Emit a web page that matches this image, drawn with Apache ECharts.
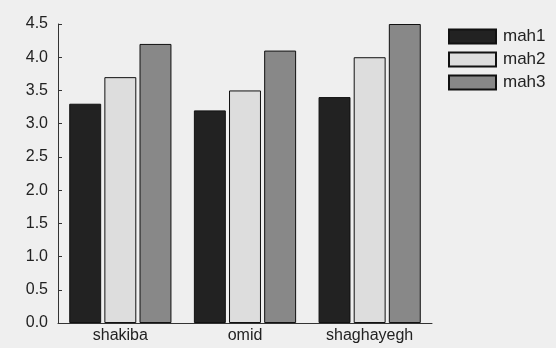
<!DOCTYPE html>
<html>
<head>
<meta charset="utf-8">
<script src="https://cdn.jsdelivr.net/npm/echarts@6/dist/echarts.min.js"></script>
<style>
  html, body { margin: 0; padding: 0; background: #efefef; }
  #chart { width: 556px; height: 348px; }
</style>
</head>
<body>
<div id="chart"></div>
<script>
// data
var categories = ["shakiba", "omid", "shaghayegh"];
var mah1 = [3.3, 3.2, 3.4];
var mah2 = [3.7, 3.5, 4.0];
var mah3 = [4.2, 4.1, 4.5];
var seriesNames = ["mah1", "mah2", "mah3"];
var seriesColors = ["#222222", "#dddddd", "#888888"];

var chart = echarts.init(document.getElementById("chart"));

var font = "Liberation Sans, Arial, sans-serif";

function makeSeries(name, data, color) {
  return {
    name: name,
    type: "bar",
    data: data,
    barGap: "10%",
    barCategoryGap: "18%",
    itemStyle: { color: color, borderColor: "#111", borderWidth: 1 },
    emphasis: { disabled: true }
  };
}

var option = {
  backgroundColor: "#efefef",
  animation: false,
  grid: { left: 58, top: 24, right: 124, bottom: 25 },
  legend: {
    orient: "vertical",
    left: 443,
    top: 23,
    itemWidth: 47,
    itemHeight: 14,
    itemGap: 6,
    textStyle: { fontFamily: font, fontSize: 17, color: "#222", padding: [0, 0, 0, 2] },
    icon: "rect",
    data: seriesNames
  },
  xAxis: {
    type: "category",
    data: categories,
    axisLine: { lineStyle: { color: "#333", width: 1 } },
    axisTick: { inside: true, length: 6, lineStyle: { color: "#222" } },
    axisLabel: { fontFamily: font, fontSize: 16, color: "#222", margin: 5 }
  },
  yAxis: {
    type: "value",
    min: 0,
    max: 4.5,
    interval: 0.5,
    axisLine: { show: true, lineStyle: { color: "#333", width: 1 } },
    axisTick: { show: true, inside: true, length: 4, lineStyle: { color: "#333" } },
    splitLine: { show: false },
    axisLabel: {
      fontFamily: font, fontSize: 16, color: "#222", margin: 10,
      formatter: function (v) { return v.toFixed(1); }
    }
  },
  series: [
    makeSeries(seriesNames[0], mah1, seriesColors[0]),
    makeSeries(seriesNames[1], mah2, seriesColors[1]),
    makeSeries(seriesNames[2], mah3, seriesColors[2])
  ]
};

chart.setOption(option);
</script>
</body>
</html>
